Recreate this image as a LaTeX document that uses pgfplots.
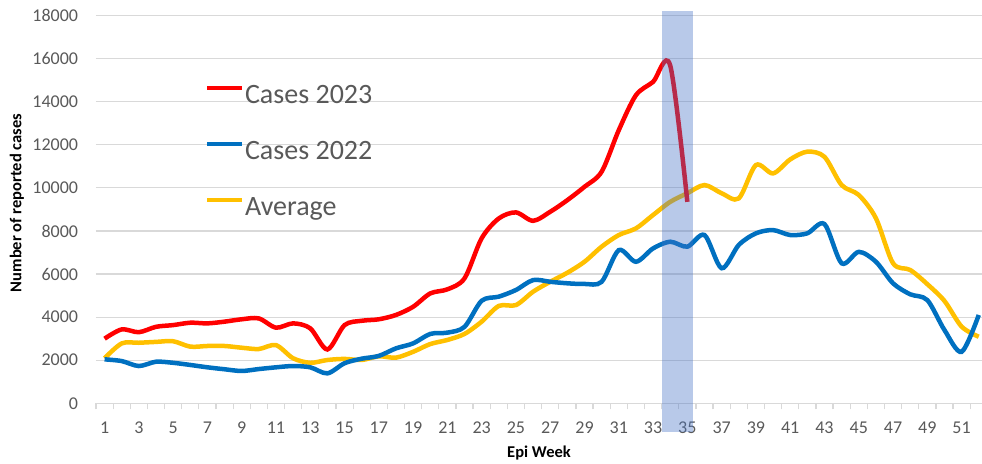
\documentclass[border=0pt]{standalone}
\usepackage{fontspec}
\setmainfont{Carlito}
\usepackage{pgfplots}
\pgfplotsset{compat=1.18}
\definecolor{c23}{HTML}{FF0000}
\definecolor{c22}{HTML}{0070C0}
\definecolor{cavg}{HTML}{FFC000}
\definecolor{gridc}{HTML}{D9D9D9}
\definecolor{txt}{HTML}{595959}
\definecolor{bandc}{HTML}{4472C4}
\begin{document}
\begin{tikzpicture}
\useasboundingbox (-96pt,-59.7pt) rectangle (886pt,403.3pt);
\begin{axis}[
 at={(0pt,0pt)}, anchor=south west,
 width=886pt, height=387.8pt, scale only axis,
 xmin=0.5, xmax=52.19, ymin=0, ymax=18000,
 clip=false,
 scaled y ticks=false,
 axis lines*=left, axis line style={-},
 x axis line style={gridc, line width=1.2pt},
 y axis line style={draw=none},
 xtick={1,3,...,51},
 minor xtick={0.5,1.5,...,51.5},
 ytick={0,2000,...,18000},
 major tick length=0pt,
 minor tick length=6pt,
 tick align=outside,
 minor tick style={gridc, line width=1.2pt},
 ymajorgrids, major grid style={gridc, line width=1.2pt},
 /pgf/number format/assume math mode=true,
 /pgf/number format/1000 sep={},
 tick label style={font=\fontsize{18}{18}\selectfont, text=txt},
 xticklabel style={inner sep=0pt, anchor=north, yshift=-18.4pt},
 yticklabel style={inner sep=0pt, anchor=east, xshift=-17.7pt},
 xlabel={Epi Week},
 ylabel={Number of reported cases},
 every axis x label/.style={at={(rel axis cs:0.5,0)}, anchor=center, yshift=-50pt, font=\bfseries\fontsize{16.5}{16.5}\selectfont},
 every axis y label/.style={at={(rel axis cs:0,0.5165)}, anchor=center, rotate=90, yshift=79pt, font=\bfseries\fontsize{16.5}{16.5}\selectfont},
 legend style={at={(rel axis cs:0.1231,0.8216)}, anchor=north west, draw=none, fill=none,
   inner sep=0pt, outer sep=0pt, font=\fontsize{28}{28}\selectfont, text=txt,
   row sep=32.5pt, column sep=1pt, nodes={inner sep=0pt, text height=18.5pt, text depth=5.2pt}},
 legend cell align=left,
 reverse legend,
 legend image code/.code={\draw[#1, line width=4pt] (0pt,8.6pt) -- (35pt,8.6pt);},
]
\addplot[cavg, line width=4.5pt, smooth, tension=0.5] coordinates {
(1,2090) (2,2780) (3,2810) (4,2850) (5,2880) (6,2630) (7,2660) (8,2660) (9,2580) (10,2520)
(11,2700) (12,2090) (13,1880) (14,2010) (15,2060) (16,2010) (17,2180) (18,2120) (19,2390) (20,2750)
(21,2940) (22,3220) (23,3790) (24,4520) (25,4560) (26,5180) (27,5640) (28,6060) (29,6570) (30,7270)
(31,7810) (32,8120) (33,8740) (34,9350) (35,9750) (36,10130) (37,9750) (38,9510) (39,11060) (40,10670)
(41,11320) (42,11680) (43,11440) (44,10130) (45,9670) (46,8590) (47,6500) (48,6190) (49,5530) (50,4750)
(51,3560) (52,3090)};
\addlegendentry{Average}
\addplot[c22, line width=4.5pt, smooth, tension=0.5] coordinates {
(1,2040) (2,1960) (3,1730) (4,1930) (5,1880) (6,1780) (7,1670) (8,1580) (9,1500) (10,1590)
(11,1670) (12,1730) (13,1670) (14,1390) (15,1860) (16,2070) (17,2200) (18,2550) (19,2780) (20,3220)
(21,3280) (22,3550) (23,4760) (24,4950) (25,5260) (26,5720) (27,5640) (28,5570) (29,5540) (30,5640)
(31,7110) (32,6570) (33,7190) (34,7500) (35,7270) (36,7810) (37,6270) (38,7350) (39,7890) (40,8040)
(41,7810) (42,7890) (43,8320) (44,6500) (45,7030) (46,6570) (47,5570) (48,5060) (49,4790) (50,3400)
(51,2390) (52,4100)};
\addlegendentry{Cases 2022}
\addplot[c23, line width=4.5pt, smooth, tension=0.5] coordinates {
(1,3000) (2,3430) (3,3300) (4,3550) (5,3630) (6,3740) (7,3710) (8,3790) (9,3900) (10,3940)
(11,3510) (12,3710) (13,3480) (14,2500) (15,3630) (16,3830) (17,3900) (18,4100) (19,4480) (20,5100)
(21,5290) (22,5800) (23,7660) (24,8580) (25,8860) (26,8470) (27,8890) (28,9430) (29,10050) (30,10750)
(31,12680) (32,14300) (33,14920) (34,15680) (35,9350)};
\addlegendentry{Cases 2023}
\addplot[draw=none, fill=bandc, fill opacity=0.38, forget plot] coordinates {
(33.5,-1340) (35.31,-1340) (35.31,18200) (33.5,18200)} -- cycle;
\end{axis}
\end{tikzpicture}
\end{document}
